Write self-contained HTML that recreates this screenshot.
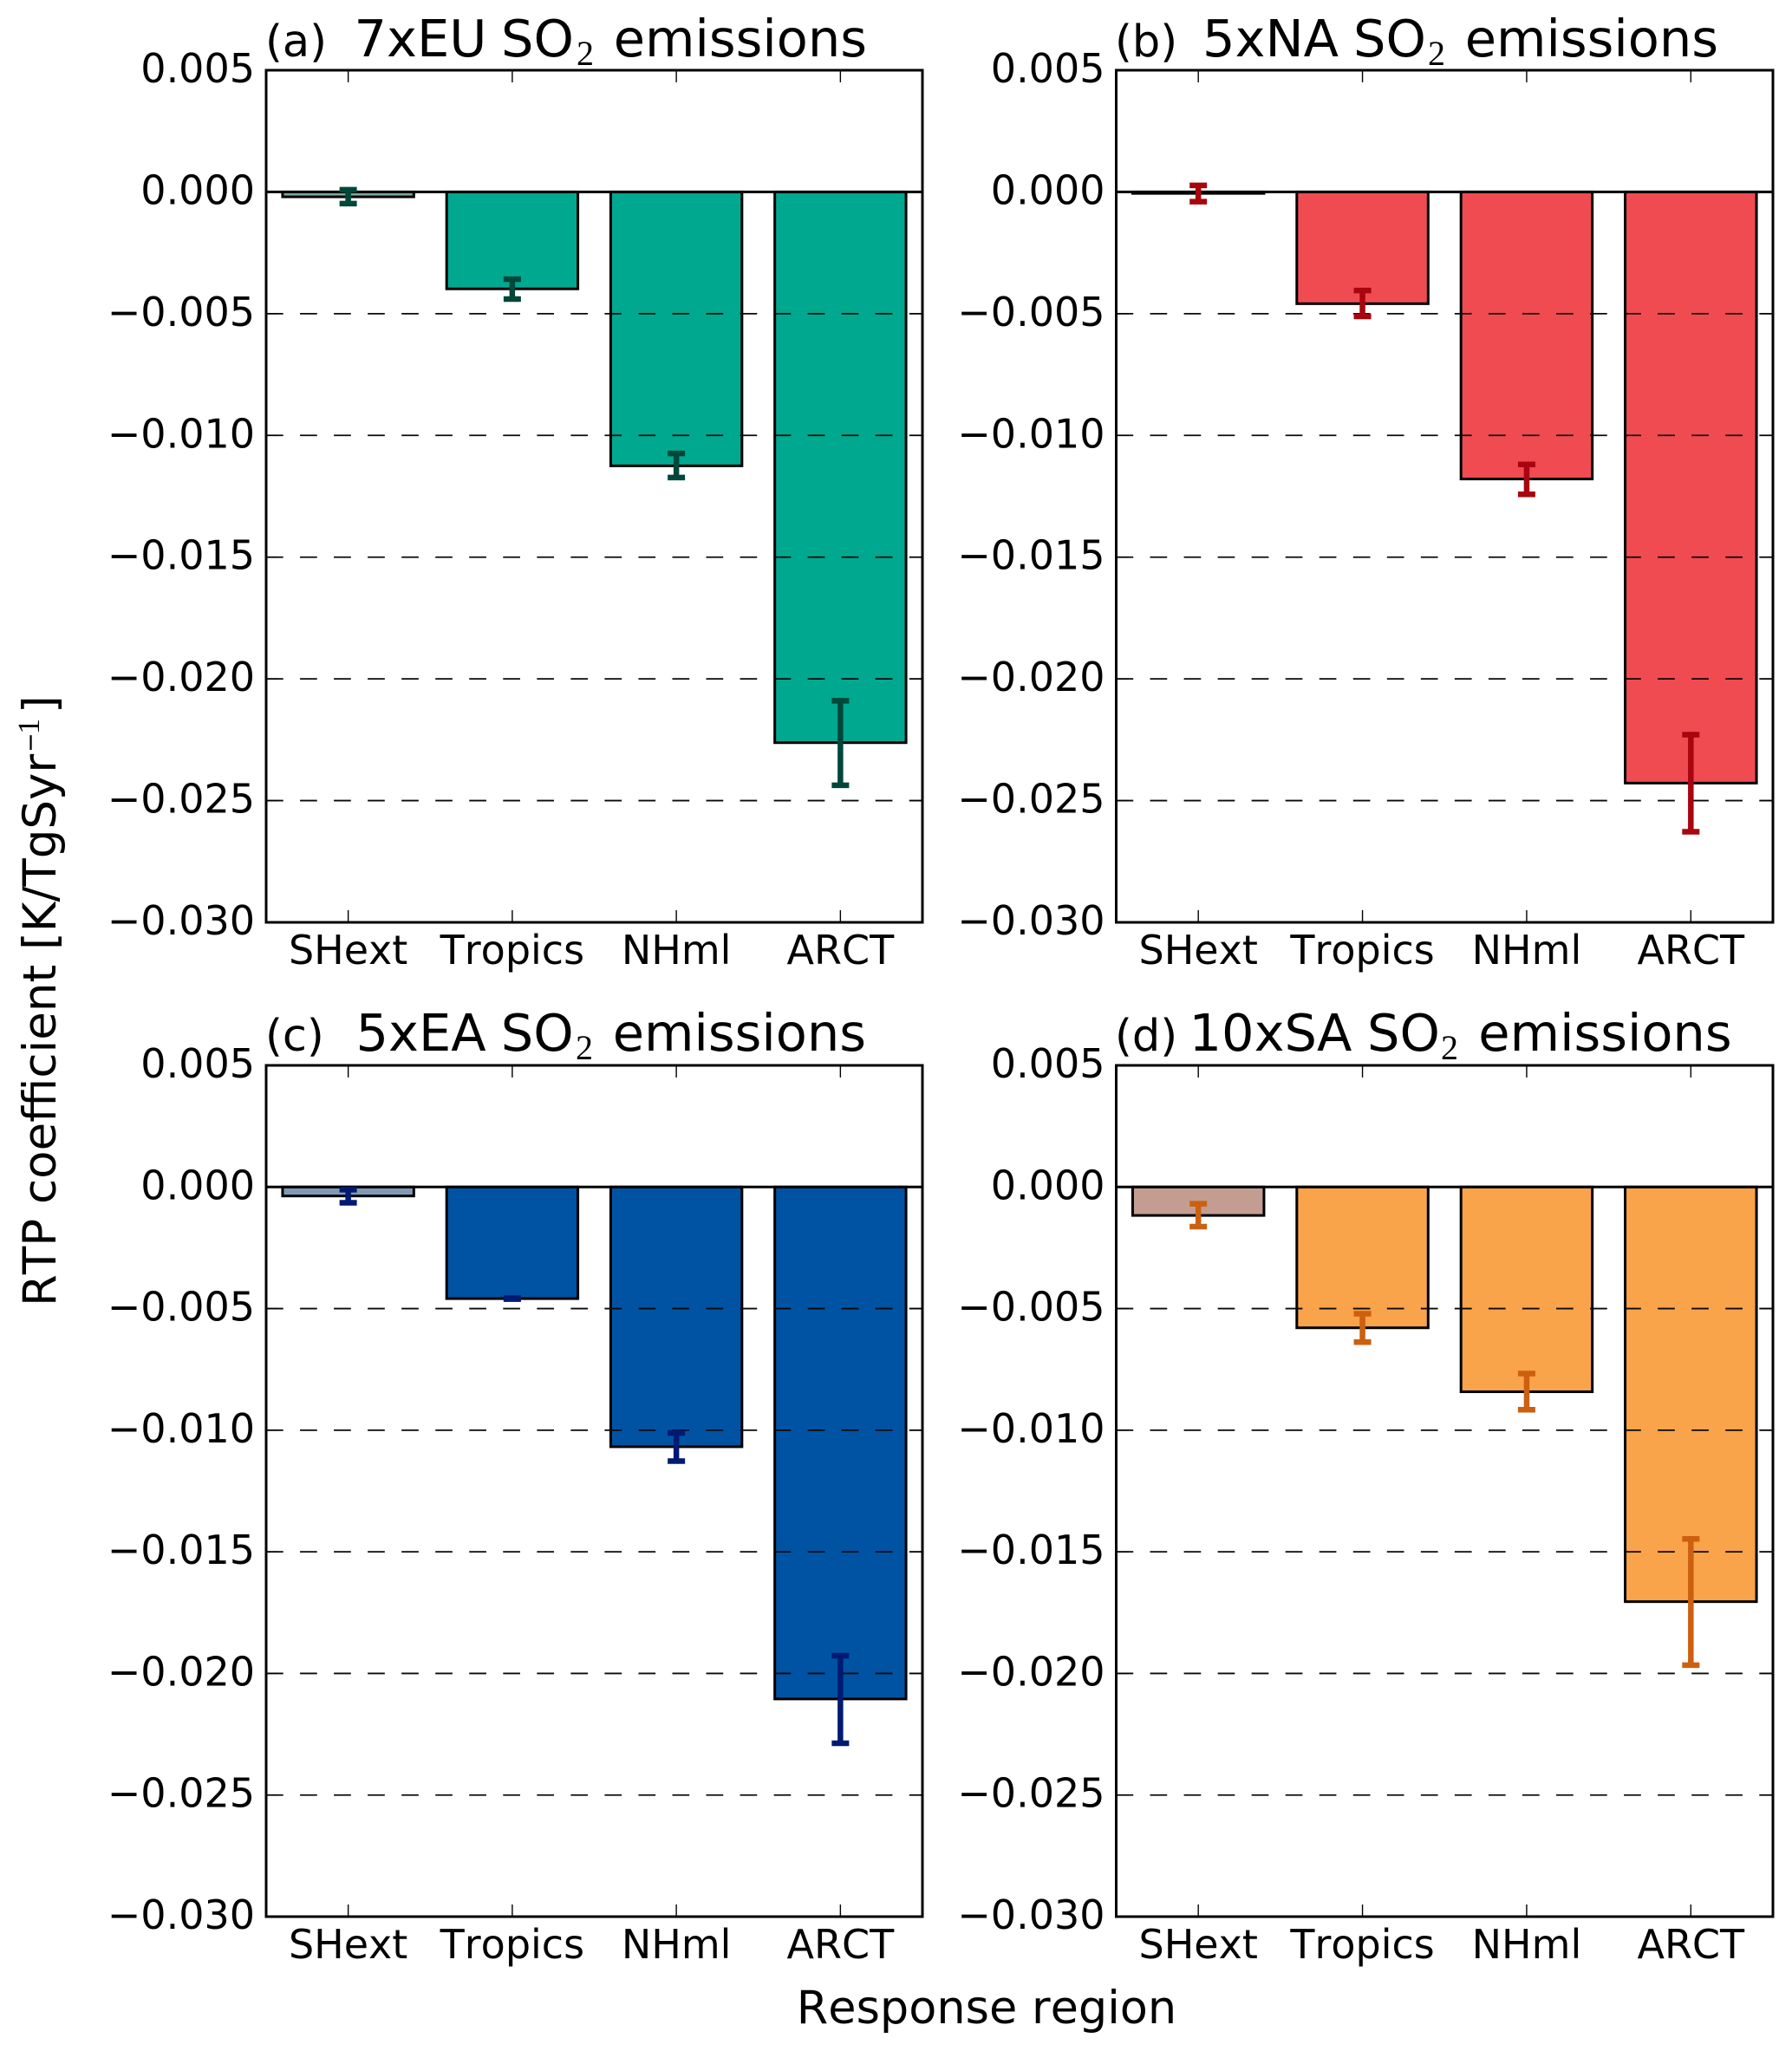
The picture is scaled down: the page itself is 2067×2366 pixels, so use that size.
<!DOCTYPE html>
<html lang="en">
<head>
<meta charset="utf-8">
<title>RTP coefficient by response region</title>
<style>
html,body{margin:0;padding:0;background:#fff;}
svg{display:block;}
text{font-family:"DejaVu Sans","Liberation Sans",sans-serif;fill:#000;font-kerning:none;}
.t-main{font-size:59px;}
.t-tag{font-size:51px;}
.t-sub{font-size:40px;font-family:"Liberation Serif",serif;}
.tick{font-size:46px;}
.ax-x{font-size:52.5px;}
.ax-y{font-size:53px;}
</style>
</head>
<body>
<svg id="figure" xmlns="http://www.w3.org/2000/svg" width="2067" height="2366" viewBox="0 0 2067 2366">
  <rect x="0" y="0" width="2067" height="2366" fill="#ffffff"/>
  <g id="panels"></g>

  <g>
    <text class="t-tag" x="306" y="65">(a)</text>
    <text class="t-main" x="408.5" y="65">7xEU</text>
    <text class="t-main" x="578" y="65">SO</text>
    <text class="t-sub" x="665" y="75">2</text>
    <text class="t-main" x="707.7" y="65">emissions</text>
  </g>
  <g>
    <text class="t-tag" x="1286" y="65">(b)</text>
    <text class="t-main" x="1387" y="65">5xNA</text>
    <text class="t-main" x="1561" y="65">SO</text>
    <text class="t-sub" x="1647" y="75">2</text>
    <text class="t-main" x="1689.7" y="65">emissions</text>
  </g>
  <g>
    <text class="t-tag" x="306" y="1212">(c)</text>
    <text class="t-main" x="410.5" y="1212">5xEA</text>
    <text class="t-main" x="577.8" y="1212">SO</text>
    <text class="t-sub" x="664" y="1222">2</text>
    <text class="t-main" x="706.7" y="1212">emissions</text>
  </g>
  <g>
    <text class="t-tag" x="1286" y="1212">(d)</text>
    <text class="t-main" x="1371.5" y="1212">10xSA</text>
    <text class="t-main" x="1577" y="1212">SO</text>
    <text class="t-sub" x="1662" y="1222">2</text>
    <text class="t-main" x="1705.3" y="1212">emissions</text>
  </g>

  <text class="ax-x" x="1138" y="2334" text-anchor="middle">Response region</text>
  <g transform="translate(64,1507) rotate(-90)">
    <text class="ax-y" x="0" y="0">RTP coefficient [K/TgSyr</text>
    <text x="639" y="-20" style="font-size:27px">−</text>
    <text class="t-sub" x="660" y="-19" style="font-size:36px">1</text>
    <text class="ax-y" x="684" y="0">]</text>
  </g>
</svg>

<script>
const categories = ["SHext", "Tropics", "NHml", "ARCT"];
const yTickValues = [0.005, 0, -0.005, -0.01, -0.015, -0.02, -0.025, -0.03];
const yTickLabels = ["0.005", "0.000", "−0.005", "−0.010", "−0.015", "−0.020", "−0.025", "−0.030"];
const gridValues = [-0.005, -0.01, -0.015, -0.02, -0.025];

const valuesEU = [-0.0002, -0.00398, -0.01125, -0.02262];
const errTopEU = [0.00009, -0.00358, -0.01074, -0.0209];
const errBottomEU = [-0.00048, -0.0044, -0.01173, -0.02437];

const valuesNA = [-0.00006, -0.00459, -0.01179, -0.02428];
const errTopNA = [0.00027, -0.00405, -0.01119, -0.02229];
const errBottomNA = [-0.0004, -0.00511, -0.01242, -0.02628];

const valuesEA = [-0.00037, -0.00459, -0.01068, -0.02105];
const errTopEA = [-0.00011, -0.00457, -0.01011, -0.01927];
const errBottomEA = [-0.00065, -0.00461, -0.01127, -0.02287];

const valuesSA = [-0.00117, -0.00579, -0.00842, -0.01705];
const errTopSA = [-0.00069, -0.00521, -0.00767, -0.01447];
const errBottomSA = [-0.00163, -0.00638, -0.00916, -0.01966];

const yMax = 0.005;
const yMin = -0.03;
const mutedCategory = "SHext";

const panelDefs = [
  {id:"a", left:307, right:1064, top:81, bottom:1064, fill:"#00a88f", muted:"#7fa8a0", err:"#00473a", v:valuesEU, hi:errTopEU, lo:errBottomEU},
  {id:"b", left:1287.5, right:2045, top:81, bottom:1064, fill:"#f04b51", muted:"#d9a0a0", err:"#a8050f", v:valuesNA, hi:errTopNA, lo:errBottomNA},
  {id:"c", left:307, right:1064, top:1229, bottom:2211, fill:"#0053a3", muted:"#7f9ab5", err:"#001a72", v:valuesEA, hi:errTopEA, lo:errBottomEA},
  {id:"d", left:1287.5, right:2045, top:1229, bottom:2211, fill:"#f9a34a", muted:"#c49d92", err:"#cc6010", v:valuesSA, hi:errTopSA, lo:errBottomSA}
];

const NS = "http://www.w3.org/2000/svg";
function make(tag, attrs, parent) {
  const node = document.createElementNS(NS, tag);
  for (const k in attrs) node.setAttribute(k, attrs[k]);
  parent.appendChild(node);
  return node;
}
function lineEl(x1, y1, x2, y2, stroke, width, parent) {
  return make("line", {x1:x1, y1:y1, x2:x2, y2:y2, stroke:stroke, "stroke-width":width}, parent);
}

const root = document.getElementById("panels");

panelDefs.forEach(function (p) {
  const band = (p.right - p.left) / categories.length;
  const xCenter = function (i) { return p.left + band * (i + 0.5); };
  const yPos = function (v) { return p.top + (yMax - v) / (yMax - yMin) * (p.bottom - p.top); };
  const barWidth = band * 0.8;
  const capWidth = 20;
  const zero = yPos(0);

  const g = make("g", {}, root);
  
  

  // bars
  p.v.forEach(function (val, i) {
    const yv = yPos(val);
    const bar = make("rect", {
      x: xCenter(i) - barWidth / 2,
      y: Math.min(zero, yv),
      width: barWidth,
      height: Math.abs(yv - zero),
      fill: categories[i] === mutedCategory ? p.muted : p.fill,
      stroke: "#000",
      "stroke-width": 3
    }, g);
    
    
  });

  // dashed grid lines
  gridValues.forEach(function (val) {
    const gl = lineEl(p.left, yPos(val), p.right, yPos(val), "#0a0a0a", 1.8, g);
    gl.setAttribute("stroke-dasharray", "19.7 19.34");
    
    
  });

  // zero line
  const zl = lineEl(p.left, zero, p.right, zero, "#000", 3, g);
  
  

  // error bars
  p.v.forEach(function (val, i) {
    const cx = xCenter(i);
    const yHi = yPos(p.hi[i]);
    const yLo = yPos(p.lo[i]);
    const eg = make("g", {}, g);
    
    
    lineEl(cx, yHi, cx, yLo, p.err, 6.5, eg);
    lineEl(cx - capWidth / 2, yHi, cx + capWidth / 2, yHi, p.err, 6.5, eg);
    lineEl(cx - capWidth / 2, yLo, cx + capWidth / 2, yLo, p.err, 6.5, eg);
  });

  // y ticks and labels
  yTickValues.forEach(function (val, i) {
    const yy = yPos(val);
    const t1 = lineEl(p.left, yy, p.left + 14, yy, "#000", 1.4, g);
    
    
    const t2 = lineEl(p.right - 14, yy, p.right, yy, "#000", 1.4, g);
    
    
    const lab = make("text", {x: p.left - 13, y: yy + 14, "text-anchor": "end", "class": "tick"}, g);
    lab.textContent = yTickLabels[i];
    
    
  });

  // x ticks and labels
  categories.forEach(function (name, i) {
    const cx = xCenter(i);
    const t1 = lineEl(cx, p.top, cx, p.top + 14, "#000", 1.4, g);
    
    
    const t2 = lineEl(cx, p.bottom - 14, cx, p.bottom, "#000", 1.4, g);
    
    
    const lab = make("text", {x: cx, y: p.bottom + 48, "text-anchor": "middle", "class": "tick"}, g);
    lab.textContent = name;
    
    
  });

  // axes frame
  const frame = make("rect", {
    x: p.left, y: p.top,
    width: p.right - p.left, height: p.bottom - p.top,
    fill: "none", stroke: "#000", "stroke-width": 3
  }, g);
  
  
});
</script>
</body>
</html>
